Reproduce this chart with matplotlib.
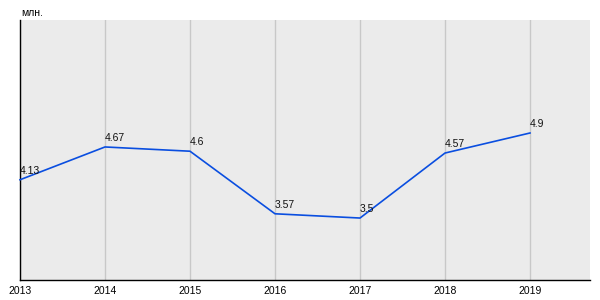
import matplotlib
matplotlib.use("Agg")
import matplotlib.pyplot as plt

years = [2013, 2014, 2015, 2016, 2017, 2018, 2019]
values = [4.13, 4.67, 4.6, 3.57, 3.5, 4.57, 4.9]
labels = ["4.13", "4.67", "4.6", "3.57", "3.5", "4.57", "4.9"]

plt.rcParams['font.family'] = ['Liberation Sans', 'DejaVu Sans']

fig = plt.figure(figsize=(6, 3), dpi=100)
ax = fig.add_axes([20/600, 20/300, 570/600, 260/300])
ax.set_facecolor('#ebebeb')
ax.set_xlim(2013, 2019 + 60/85)
ax.set_ylim(2.48, 6.76)
ax.set_xticks(years)
ax.set_xticklabels([str(y) for y in years], fontsize=7.5)
ax.set_yticks([])
ax.tick_params(axis='x', length=0, pad=4)
ax.grid(axis='x', color='#c8c8c8', linewidth=1)
ax.set_axisbelow(True)
for s in ['top', 'right']:
    ax.spines[s].set_visible(False)
for s in ['left', 'bottom']:
    ax.spines[s].set_color('black')
    ax.spines[s].set_linewidth(1)
ax.plot(years, values, color='#0a4ee0', linewidth=1.2, clip_on=False, zorder=3)
for x, v, t in zip(years, values, labels):
    ax.annotate(t, (x, v), xytext=(0, 3), textcoords='offset points',
                fontsize=7.5, ha='left', va='bottom', color='#111111')
fig.text(21/600, 1 - 13/300, 'млн.', fontsize=7.5, ha='left', va='center')
fig.savefig('out.png', dpi=100)
